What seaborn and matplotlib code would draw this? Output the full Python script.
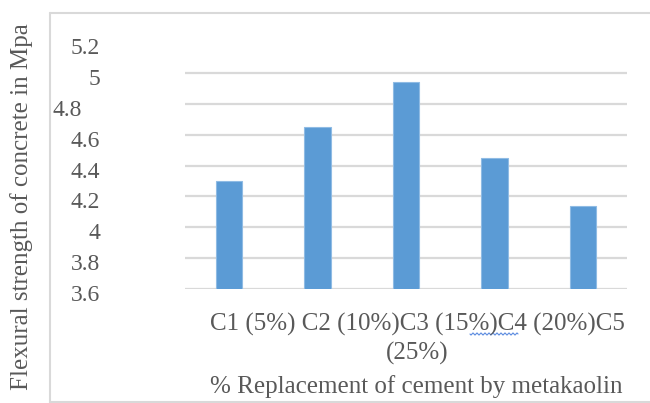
import numpy as np
import matplotlib
matplotlib.use("Agg")
import matplotlib.pyplot as plt
import matplotlib.transforms as mtransforms
from matplotlib.lines import Line2D
import seaborn as sns
import pandas as pd

# Flexural strength for each metakaolin replacement level
categories = ["C1 (5%)", "C2 (10%)", "C3 (15%)", "C4 (20%)", "C5 (25%)"]
strength = [4.30, 4.65, 4.94, 4.45, 4.14]
y_ticks = [3.6, 3.8, 4.0, 4.2, 4.4, 4.6, 4.8, 5.0, 5.2]
y_tick_labels = ["3.6", "3.8", "4", "4.2", "4.4", "4.6", "4.8", "5", "5.2"]
y_title = "Flexural strength of concrete in Mpa"
x_title = "% Replacement of cement by metakaolin"

sns.set_theme(style="whitegrid")
plt.rcParams["font.family"] = ["Liberation Serif", "DejaVu Serif"]

TEXT = "#595959"
GRID = "#d9d9d9"
W, H = 650, 403

fig = plt.figure(figsize=(W / 100, H / 100), dpi=100)
fig.patch.set_facecolor("white")
ax = fig.add_axes([185 / W, (H - 289) / H, 442 / W, 247 / H])

df = pd.DataFrame({"mix": categories, "strength": strength})
sns.barplot(data=df, x="mix", y="strength", color="#5b9bd5", saturation=1,
            width=0.3, edgecolor="#8fbbe4", linewidth=0.8, ax=ax)

ax.set_xlim(-0.5, len(categories) - 0.5)
ax.set_ylim(y_ticks[0], y_ticks[-1])
ax.set_yticks(y_ticks)
ax.set_yticklabels(y_tick_labels)
ax.set_xticks(range(len(categories)))
ax.set_xticklabels([])
ax.set_xlabel("")
ax.set_ylabel("")
ax.set_facecolor("white")
for s in ax.spines.values():
    s.set_visible(False)
ax.set_axisbelow(True)
ax.grid(axis="x", visible=False)
ax.grid(axis="y", color=GRID, linewidth=1.6)
ax.tick_params(axis="x", length=0)
ax.tick_params(axis="y", length=0, pad=61, labelsize=17, labelcolor=TEXT)

# no gridline at the top value; labels sit slightly below their gridlines
yticks = ax.yaxis.get_major_ticks()
yticks[-1].gridline.set_visible(False)
for t, lab in zip(yticks, y_tick_labels):
    dx = -18 / 100 if lab == "4.8" else 0
    t.label1.set_transform(t.label1.get_transform() +
                           mtransforms.ScaledTranslation(dx, -4 / 100, fig.dpi_scale_trans))

# category labels flow as a single centred paragraph
first, last = categories[-1].split(" ", 1)
line1 = categories[0] + " " + "".join(categories[1:-1]) + first
fig.text(417.5 / W, 1 - 339 / H, line1 + "\n" + last, ha="center", va="center",
         multialignment="center", fontsize=18, color=TEXT, linespacing=1.3)

fig.text(416 / W, 1 - 387 / H, x_title, ha="center", va="center",
         fontsize=18, color=TEXT)
fig.text(22 / W, 1 - 207 / H, y_title, rotation=90, ha="center", va="center",
         fontsize=18, color=TEXT)

# spell-check squiggle under "%)C"
sx = np.linspace(470, 518, 80)
sy = 334 + 1.0 * np.sin((sx - 470) / 4.0 * 2 * np.pi)
fig.add_artist(Line2D(sx / W, 1 - sy / H, transform=fig.transFigure,
                      color="#5b8be0", linewidth=0.8))

# chart-area frame
for xs, ys in [([50, 650], [13, 13]), ([50, 50], [13, 403]), ([50, 650], [402, 402])]:
    fig.add_artist(Line2D(np.array(xs) / W, 1 - np.array(ys) / H,
                          transform=fig.transFigure, color=GRID, linewidth=1.5))

fig.savefig("out.png", dpi=100, facecolor="white")
